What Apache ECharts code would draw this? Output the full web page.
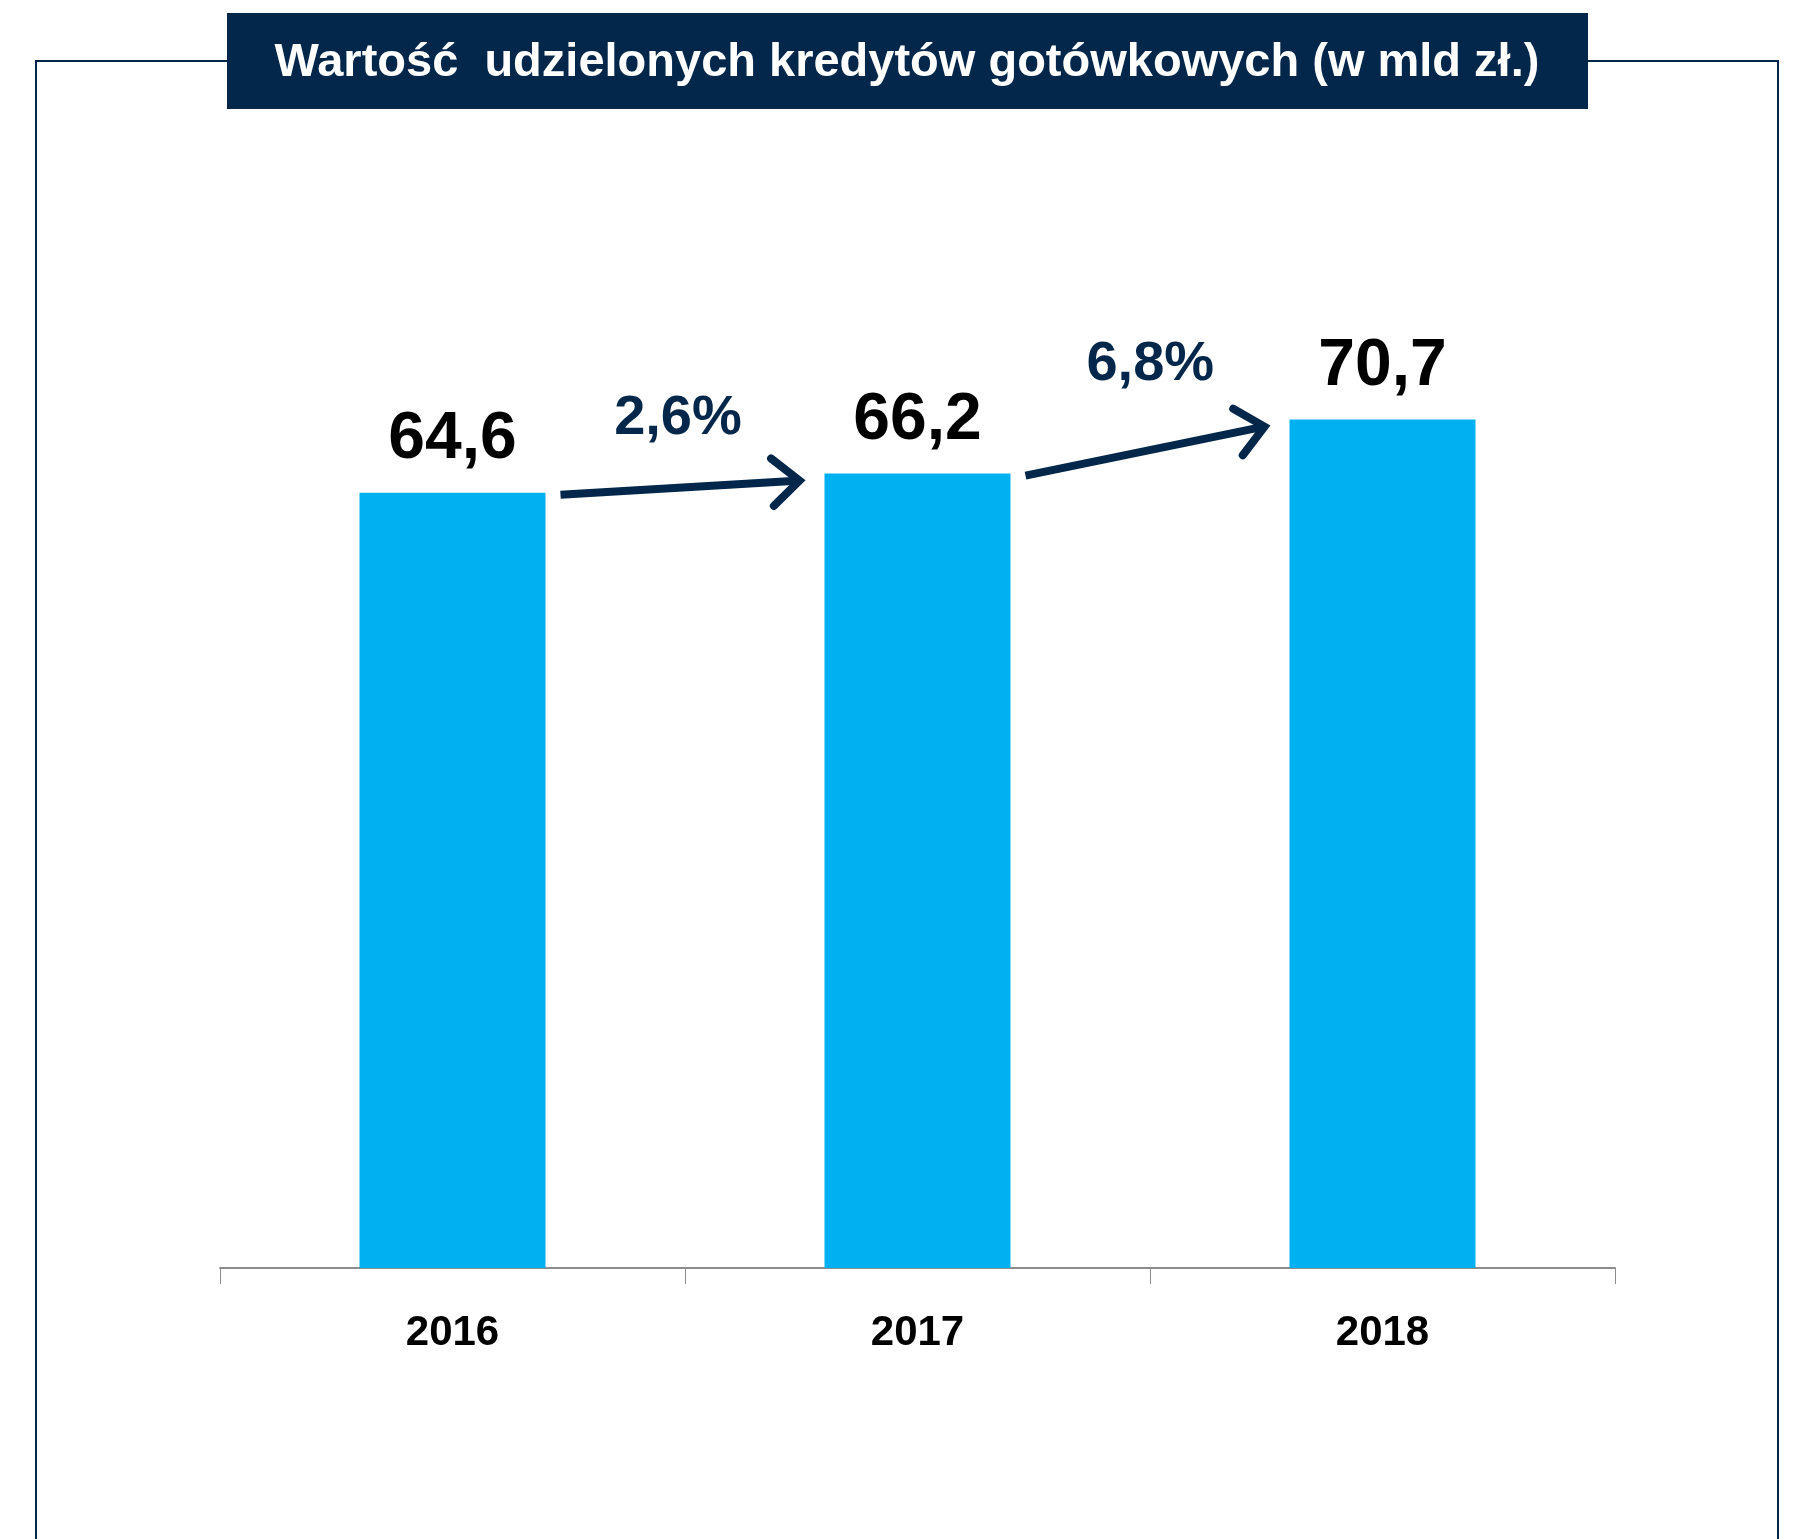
<!DOCTYPE html>
<html>
<head>
<meta charset="utf-8">
<script src="https://cdn.jsdelivr.net/npm/echarts@6/dist/echarts.min.js"></script>
<style>
html,body{margin:0;padding:0;background:#fff;}
#chart{width:1800px;height:1539px;}
</style>
</head>
<body>
<div id="chart"></div>
<script>
const titleText = 'Wartość  udzielonych kredytów gotówkowych (w mld zł.)';
const categories = ['2016', '2017', '2018'];
const values = [64.6, 66.2, 70.7];
const growthLabels = ['2,6%', '6,8%'];

const NAVY = '#02274b';
const BLUE = '#00b0f0';
const FONT = '"Liberation Sans", Arial, sans-serif';

const arrowData = growthLabels.map((g, i) => [i, values[i], values[i + 1], g]);

const chart = echarts.init(document.getElementById('chart'), null, {renderer: 'canvas'});

chart.setOption({
  animation: false,
  backgroundColor: '#ffffff',
  graphic: [
    {
      type: 'rect', z: 0,
      shape: {x: 36, y: 61, width: 1742, height: 1520},
      style: {fill: 'none', stroke: NAVY, lineWidth: 2}
    },
    {
      type: 'rect', z: 10,
      shape: {x: 227, y: 13, width: 1361, height: 96},
      style: {fill: NAVY}
    },
    {
      type: 'text', z: 11,
      x: 907, y: 63,
      style: {
        text: titleText, fill: '#ffffff',
        font: 'bold 47px ' + FONT,
        align: 'center', verticalAlign: 'middle'
      }
    }
  ],
  grid: {left: 220, right: 185, top: 308, bottom: 271, containLabel: false},
  xAxis: {
    type: 'category',
    data: categories,
    axisLine: {show: true, lineStyle: {color: '#8c8c8c', width: 2}},
    axisTick: {show: true, length: 16, lineStyle: {color: '#8c8c8c', width: 1}},
    axisLabel: {
      margin: 44, color: '#000000',
      fontFamily: FONT, fontWeight: 'bold', fontSize: 42
    }
  },
  yAxis: {
    type: 'value', min: 0, max: 80,
    show: false,
    splitLine: {show: false}
  },
  series: [
    {
      type: 'bar',
      data: values,
      barWidth: '40%',
      itemStyle: {color: BLUE},
      label: {
        show: true, position: 'top', distance: 20,
        color: '#000000', fontFamily: FONT, fontWeight: 'bold', fontSize: 66,
        formatter: p => String(p.value).replace('.', ',')
      }
    },
    {
      type: 'custom',
      data: arrowData,
      z: 5,
      renderItem: function (params, api) {
        const i = api.value(0);
        const a = api.coord([i, api.value(1)]);
        const b = api.coord([i + 1, api.value(2)]);
        const band = api.size([1, 0])[0];
        const half = band * 0.4 / 2;
        const sx = a[0] + half + 15, sy = a[1] + 2;
        const ex = b[0] - half - 25, ey = b[1] + 7;
        const ang = Math.atan2(ey - sy, ex - sx);
        const L = 36, spread = 0.72;
        const p1 = [ex - L * Math.cos(ang - spread), ey - L * Math.sin(ang - spread)];
        const p2 = [ex - L * Math.cos(ang + spread), ey - L * Math.sin(ang + spread)];
        const label = arrowData[params.dataIndex][3];
        const slope = (ey - sy) / (ex - sx);
        return {
          type: 'group',
          children: [
            {
              type: 'line',
              shape: {x1: sx, y1: sy, x2: ex - 3 * Math.cos(ang), y2: ey - 3 * Math.sin(ang)},
              style: {stroke: NAVY, lineWidth: 8, lineCap: 'butt'}
            },
            {
              type: 'polyline',
              shape: {points: [p1, [ex, ey], p2]},
              style: {stroke: NAVY, lineWidth: 8, fill: 'none', lineCap: 'round', lineJoin: 'miter'}
            },
            {
              type: 'text',
              x: (sx + ex) / 2 - 5 - slope * 50, y: ey - 62,
              style: {
                text: label, fill: NAVY,
                font: 'bold 56px ' + FONT,
                align: 'center', verticalAlign: 'middle'
              }
            }
          ]
        };
      }
    }
  ]
});
</script>
</body>
</html>
